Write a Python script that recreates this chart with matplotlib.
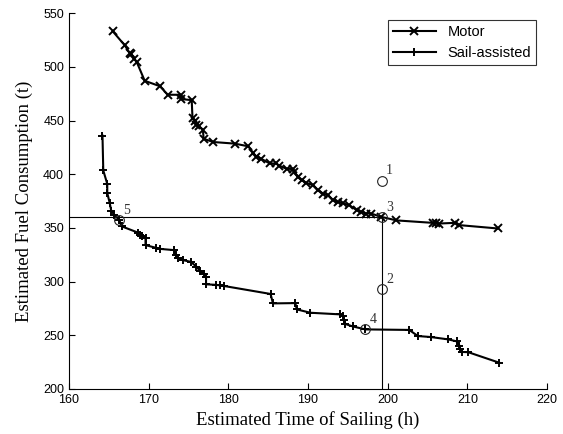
#!/usr/bin/env python3

import matplotlib
matplotlib.use('Agg')
import matplotlib.pyplot as plt

# Motor (time h, fuel t)
motor_time = [165.5, 167.0, 167.6, 167.8, 168.2, 168.5, 169.5, 171.4, 172.4, 174.0,
              174.1, 175.4, 175.5, 175.8, 176.0, 176.3, 176.8, 176.9, 178.1, 180.8,
              182.5, 183.1, 183.5, 184.1, 185.2, 186.0, 186.4, 187.3, 188.1, 188.3,
              188.7, 189.2, 189.8, 190.6, 191.2, 191.9, 192.5, 193.1, 193.8, 194.4,
              195.2, 196.1, 196.7, 197.3, 197.9, 199.2, 201.1, 205.7, 206.1, 206.5,
              208.4, 209.0, 213.8]
motor_fuel = [533, 520, 513, 512, 507.5, 504.5, 487, 482, 474, 474,
              470, 469, 452, 450, 445.5, 444.5, 441.5, 433, 430, 428.5,
              426, 420, 416.5, 414.5, 410, 410, 408, 405, 405, 402,
              397.5, 394.5, 392, 389.8, 385.1, 382.0, 380.5, 375.8, 374.3, 372.8,
              371.2, 366.5, 364.9, 363.4, 363.4, 360.3, 357, 354.7, 354.7, 354.1,
              354.7, 352.6, 349.5]

# Sail-assisted
sail_time = [164.2, 164.3, 164.8, 164.8, 165.1, 165.3, 165.7, 166.3, 166.6, 168.7,
             168.9, 169.2, 169.6, 169.6, 170.9, 171.4, 173.2, 173.4, 173.7, 174.3,
             175.3, 176.0, 176.5, 177.0, 177.2, 177.2, 178.4, 179.0, 179.4, 185.3,
             185.6, 188.4, 188.6, 190.3, 194.0, 194.4, 194.5, 194.7, 195.6, 197.2,
             202.7, 203.8, 205.4, 207.6, 208.7, 209.0, 209.1, 209.3, 210.1, 214.0]
sail_fuel = [436, 403.5, 391, 382.5, 373.5, 366, 361.9, 357.5, 351.5, 345.5,
             343.5, 342.3, 340.5, 334, 331.5, 330.5, 329.3, 324.7, 322, 320,
             318.4, 313.8, 309.5, 307, 304, 297.5, 297, 296.5, 296, 288.5,
             279.7, 280, 274.1, 271, 269.5, 268.2, 264.2, 260.5, 258.3, 255.5,
             255, 249.3, 248.4, 246.2, 244.3, 240.5, 237.5, 234.5, 234.3, 224.5]

# marked points 1..5
pt_time = [199.3, 199.3, 199.3, 197.2, 166.3]
pt_fuel = [394, 293, 360, 255.5, 357.5]
pt_label = ['1', '2', '3', '4', '5']

fig = plt.figure(figsize=(5.63, 4.34), dpi=100)
ax = fig.add_axes([0.1226, 0.1037, 0.849, 0.866])

ax.plot(motor_time, motor_fuel, color='k', lw=1.5, marker='x', ms=5.5, mew=1.4, label='Motor')
ax.plot(sail_time, sail_fuel, color='k', lw=1.5, marker='+', ms=6, mew=1.4, label='Sail-assisted')

# guide lines through point 3
ax.plot([160, pt_time[2]], [pt_fuel[2], pt_fuel[2]], color='k', lw=0.8)
ax.plot([pt_time[2], pt_time[2]], [200, pt_fuel[2]], color='k', lw=0.8)

ax.plot(pt_time, pt_fuel, ls='none', marker='o', ms=7, mfc='none', mec='#222222', mew=0.8)
for t, f, s in zip(pt_time, pt_fuel, pt_label):
	ax.text(t + 0.5, f + 3, s, fontsize=10, family='Liberation Serif', color='#333333', ha='left', va='bottom')

ax.set_xlim(160, 220)
ax.set_ylim(200, 550)
ax.set_xticks(range(160, 221, 10))
ax.set_yticks(range(200, 551, 50))
ax.tick_params(direction='in', labelsize=9, length=4)
for lab in ax.get_xticklabels() + ax.get_yticklabels():
	lab.set_family('Liberation Sans')
ax.spines['top'].set_visible(False)
ax.spines['right'].set_visible(False)

ax.set_xlabel('Estimated Time of Sailing (h)', family='Liberation Serif', fontsize=13.5, labelpad=4)
ax.set_ylabel('Estimated Fuel Consumption (t)', family='Liberation Serif', fontsize=13.5, labelpad=7)

leg = ax.legend(loc='upper right', bbox_to_anchor=(0.977, 0.981), borderaxespad=0,
                prop={'family': 'Liberation Sans', 'size': 10.5},
                fancybox=False, edgecolor='k', handlelength=2.9, borderpad=0.35, labelspacing=0.45)
leg.get_frame().set_linewidth(0.8)

fig.savefig('out.png', dpi=100)
